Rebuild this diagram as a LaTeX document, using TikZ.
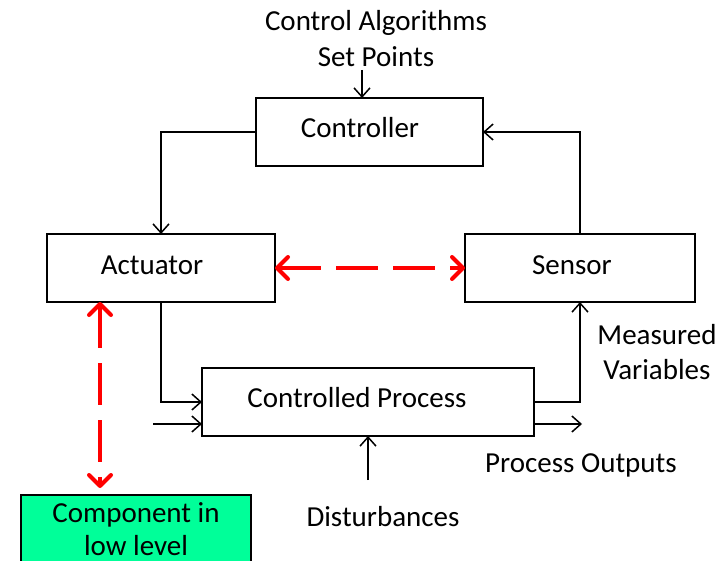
\documentclass[tikz,border=0pt]{standalone}
\usepackage{fontspec}
\setmainfont{Carlito}
\usetikzlibrary{arrows.meta,calc}
\definecolor{compgreen}{RGB}{0,255,153}
\begin{document}
\begin{tikzpicture}[x=1pt,y=-1pt,
  every node/.style={font=\fontsize{29}{35}\selectfont, inner sep=0pt, outer sep=0pt},
  blk/.style={draw, line width=2.6pt, minimum width=#1, minimum height=68pt},
  lbl/.style={anchor=base},
  flow/.style={line width=1.5pt, -{Straight Barb[length=9pt,width=16pt,line width=1.5pt]}},
  link/.style={draw=red, line width=4pt, dash pattern=on 42pt off 15pt,
    {Straight Barb[length=11pt,width=22pt,line width=4pt,round]}-{Straight Barb[length=11pt,width=22pt,line width=4pt,round]}}
]
\useasboundingbox (0,0) rectangle (727,561);

% blocks of the loop
\node[blk=227pt] (ctl)  at (369.5,132) {};
\node[blk=228pt] (act)  at (161,268) {};
\node[blk=230pt] (sen)  at (580,268) {};
\node[blk=332pt] (proc) at (368,402) {};
\node[blk=230pt, fill=compgreen, minimum height=80pt] (comp) at (136,535) {};

% block labels
\node[lbl] (ctl-t)  at (360,138) {Controller};
\node[lbl] (act-t)  at (152,274) {Actuator};
\node[lbl] (sen-t)  at (572,274) {Sensor};
\node[lbl] (proc-t) at (357,407) {Controlled Process};
\node[lbl] (comp-t1) at (136,522) {Component in};
\node[lbl] (comp-t2) at (136,555) {low level};

% free texts
\node[lbl] (alg)  at (376,31) {Control Algorithms};
\node[lbl] (setp) at (376,67) {Set Points};
\node[lbl] (meas1) at (657,344) {Measured};
\node[lbl] (meas2) at (657,379) {Variables};
\node[lbl] (pout) at (581,472) {Process Outputs};
\node[lbl] (dist) at (383,526) {Disturbances};

% free ends of connectors
\coordinate (sp)   at (362,70);
\coordinate (pin)  at (153,424);
\coordinate (pend) at (582,424);
\coordinate (dsrc) at (368,480);
\coordinate (lt)   at (100,302);

% signal flow
\draw[flow] (sp) -- (sp |- ctl.north);
\draw[flow] (ctl.west) -| (act.north);
\draw[flow] (sen.north) |- (ctl.east);
\draw[flow] (act.south) |- (proc.west);
\draw[flow] (pin) -- (pin -| proc.west);
\draw[flow] (proc.east) -| (sen.south);
\draw[flow] (pend -| proc.east) -- (pend);
\draw[flow] (dsrc) -- (dsrc |- proc.south);

% red dashed links
\draw[link] (act.east) -- (sen.west);
\draw[link, shorten >=7pt] (lt) -- (lt |- comp.north);
\end{tikzpicture}
\end{document}
